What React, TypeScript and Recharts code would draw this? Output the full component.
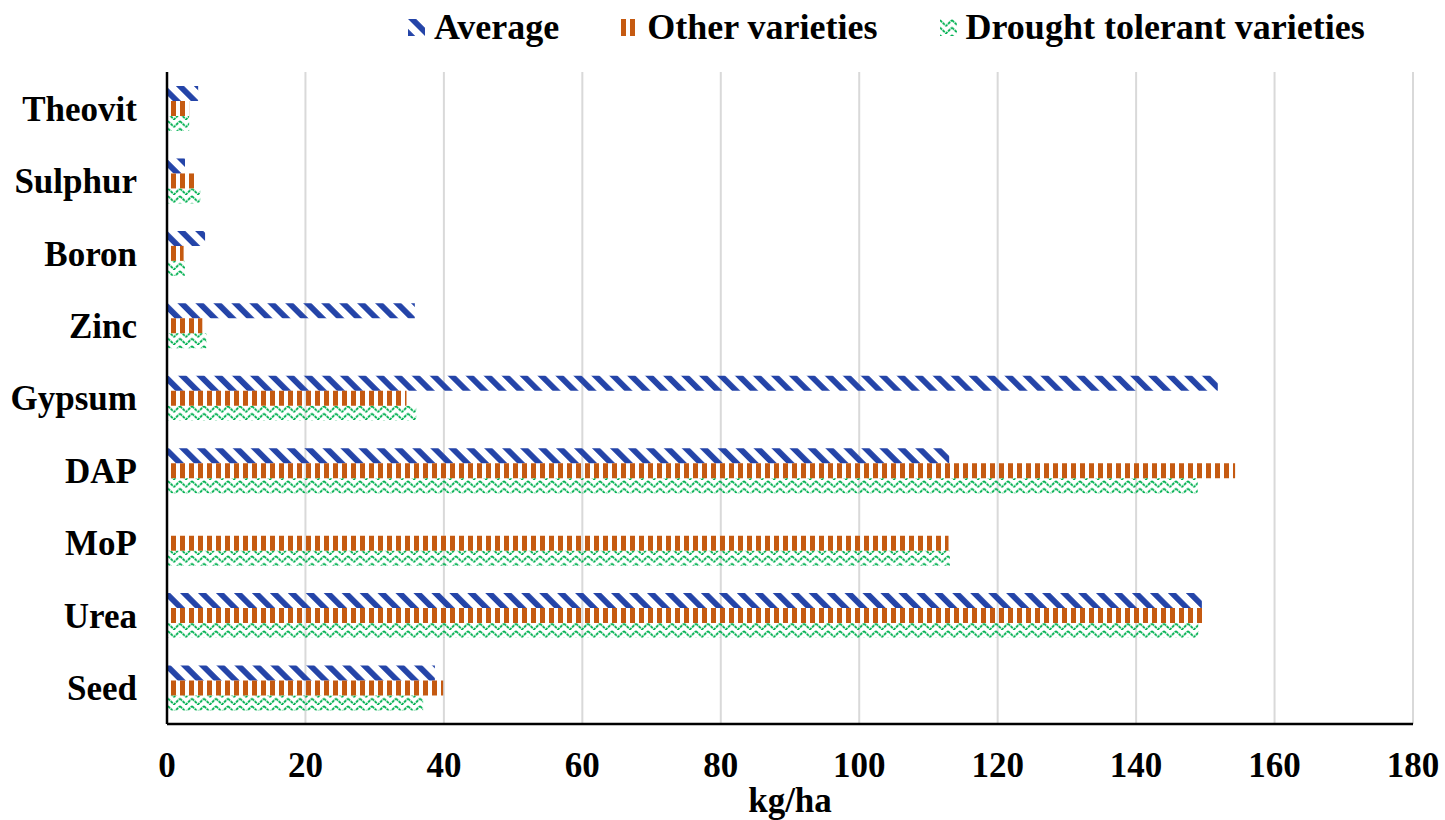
import React from 'react';
import { BarChart, Bar, XAxis, YAxis, CartesianGrid, Legend } from 'recharts';

// values, kg/ha
const categories = ['Theovit', 'Sulphur', 'Boron', 'Zinc', 'Gypsum', 'DAP', 'MoP', 'Urea', 'Seed'];
const average = [4.5, 2.6, 5.5, 35.8, 151.8, 113, 0, 149.5, 38.7];
const otherVarieties = [3.2, 4.3, 2.4, 5.1, 34.6, 154.3, 112.9, 150, 39.9];
const droughtTolerant = [3.2, 4.8, 2.6, 5.7, 36, 148.9, 113.1, 149, 37];
const xTicks = [0, 20, 40, 60, 80, 100, 120, 140, 160, 180];

const series = [
  { key: 'average', label: 'Average', fill: 'url(#patAvg)' },
  { key: 'other', label: 'Other varieties', fill: 'url(#patOther)' },
  { key: 'drought', label: 'Drought tolerant varieties', fill: 'url(#patDrought)' },
];

const data = categories.map((name, i) => ({
  name,
  average: average[i],
  other: otherVarieties[i],
  drought: droughtTolerant[i],
}));

const FONT = '"Liberation Serif", "Times New Roman", serif';

const LegendContent = () => (
  <div style={{ display: 'flex', alignItems: 'center', marginLeft: 408, fontFamily: FONT, fontWeight: 'bold', fontSize: 36, lineHeight: '36px', color: '#000' }}>
    {series.map((s, i) => (
      <div key={s.key} style={{ display: 'flex', alignItems: 'center', marginRight: i < series.length - 1 ? 62 : 0 }}>
        <svg width={17} height={17} style={{ marginRight: 9 }}>
          <rect x={0} y={0} width={17} height={17} fill={s.fill} />
        </svg>
        <span>{s.label}</span>
      </div>
    ))}
  </div>
);

export default function App() {
  return (
    <div style={{ position: 'absolute', left: 0, top: 0, background: '#fff' }}>
      <style>{`body { margin: 0; }`}</style>
      <BarChart
        width={1445}
        height={820}
        data={data}
        layout="vertical"
        margin={{ top: 72, right: 32, bottom: 0, left: 0 }}
        barGap={0}
        barSize={15}
      >
        <defs>
          <pattern id="patAvg" patternUnits="userSpaceOnUse" width={12.7} height={12.7} patternTransform="rotate(-45)">
            <rect x={0} y={0} width={5.8} height={12.7} fill="#2444a8" />
          </pattern>
          <pattern id="patOther" patternUnits="userSpaceOnUse" width={9} height={9}>
            <rect x={0} y={0} width={5} height={9} fill="#c55a11" />
          </pattern>
          <pattern id="patDrought" patternUnits="userSpaceOnUse" width={12} height={7.5}>
            <path d="M0,1 L3,4 L6,7 L9,4 L12,1" fill="none" stroke="#00b050" strokeWidth={1.8} strokeDasharray="3 0.8" />
          </pattern>
        </defs>
        <CartesianGrid horizontal={false} stroke="#d9d9d9" strokeWidth={2} />
        <XAxis
          type="number"
          domain={[0, 180]}
          ticks={xTicks}
          height={96}
          axisLine={{ stroke: '#000', strokeWidth: 2.5 }}
          tickLine={false}
          tickSize={6}
          tickMargin={22}
          tick={{ fill: '#000', fontSize: 35, fontWeight: 'bold', fontFamily: FONT }}
          label={{ value: 'kg/ha', position: 'insideBottom', offset: 8, fill: '#000', fontSize: 35, fontWeight: 'bold', fontFamily: FONT }}
        />
        <YAxis
          type="category"
          dataKey="name"
          width={167}
          axisLine={{ stroke: '#000', strokeWidth: 2.5 }}
          tickLine={false}
          tickSize={6}
          tickMargin={24}
          tick={{ fill: '#000', fontSize: 35, fontWeight: 'bold', fontFamily: FONT }}
        />
        <Legend
          layout="horizontal"
          verticalAlign="middle"
          align="center"
          wrapperStyle={{ top: 9, left: 0, width: 1445 }}
          content={() => <LegendContent />}
        />
        {series.map((s) => (
          <Bar key={s.key} dataKey={s.key} name={s.label} fill={s.fill} isAnimationActive={false} />
        ))}
      </BarChart>
    </div>
  );
}
